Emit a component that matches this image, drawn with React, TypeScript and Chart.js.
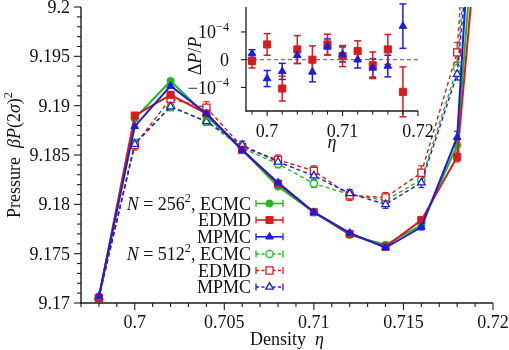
import React, { useEffect, useRef } from 'react';
import { Chart, registerables } from 'chart.js';

Chart.register(...registerables);

// ---------------- Data (main panel) ----------------
// Packing fraction (density) eta; the last column lies beyond the top of the plot.
const densities = [0.698, 0.7, 0.702, 0.704, 0.706, 0.708, 0.71, 0.712, 0.714, 0.716, 0.718, 0.72];

const ecmc256 = [9.1706, 9.1887, 9.1925, 9.189, 9.1855, 9.1818, 9.1792, 9.1769, 9.1759, 9.1779, 9.186, 9.2324];
const edmd256 = [9.1705, 9.189, 9.1911, 9.1892, 9.1855, 9.1821, 9.1792, 9.177, 9.1757, 9.1784, 9.1848, 9.2251];
const mpmc256 = [9.1707, 9.1879, 9.192, 9.1892, 9.1855, 9.1822, 9.1792, 9.1771, 9.1756, 9.1777, 9.1868, 9.2471];
const ecmc512 = [9.1706, 9.1862, 9.1899, 9.1884, 9.1857, 9.1841, 9.1821, 9.181, 9.1804, 9.1825, 9.1938, 9.2402];
const edmd512 = [9.1705, 9.186, 9.1907, 9.1898, 9.1858, 9.1845, 9.1834, 9.1809, 9.1807, 9.1832, 9.1954, 9.2535];
const mpmc512 = [9.1706, 9.1861, 9.1899, 9.1884, 9.186, 9.1843, 9.1829, 9.1811, 9.18, 9.1822, 9.1932, 9.2317];

const ecmc256Err = [0.0002, 0.0002, 0.0002, 0.0002, 0.0002, 0.0002, 0.0002, 0.0002, 0.0002, 0.0003, 0.0005, 0];
const edmd256Err = [0.0002, 0.0003, 0.0003, 0.0002, 0.0002, 0.0002, 0.0002, 0.0002, 0.0002, 0.0003, 0.0005, 0];
const mpmc256Err = [0.0002, 0.0002, 0.0002, 0.0002, 0.0002, 0.0002, 0.0002, 0.0002, 0.0002, 0.0003, 0.0006, 0];
const ecmc512Err = [0.0003, 0.0004, 0.0004, 0.0004, 0.0004, 0.0004, 0.0004, 0.0004, 0.0004, 0.0005, 0.0006, 0];
const edmd512Err = [0.0003, 0.0005, 0.0006, 0.0006, 0.0004, 0.0005, 0.0005, 0.0005, 0.0005, 0.0007, 0.001, 0];
const mpmc512Err = [0.0003, 0.0004, 0.0004, 0.0004, 0.0004, 0.0004, 0.0004, 0.0004, 0.0004, 0.0005, 0.0006, 0];

const xTickValues = [0.7, 0.705, 0.71, 0.715, 0.72];
const xTickLabels = ['0.7', '0.705', '0.71', '0.715', '0.72'];
const yTickValues = [9.17, 9.175, 9.18, 9.185, 9.19, 9.195, 9.2];
const yTickLabels = ['9.17', '9.175', '9.18', '9.185', '9.19', '9.195', '9.2'];

const legendSizes = ['256', '', '', '512', '', ''];
const legendMethods = ['ECMC', 'EDMD', 'MPMC', 'ECMC', 'EDMD', 'MPMC'];

// ---------------- Data (inset) ----------------
const insetDensities = [0.698, 0.7, 0.702, 0.704, 0.706, 0.708, 0.71, 0.712, 0.714, 0.716, 0.718];
// relative deviation ΔP/P in units of 1e-4
const edmdDeviation = [-0.05, 0.55, -1.04, 0.37, 0.0, 0.55, 0.13, 0.31, -0.2, 0.37, -1.16];
const edmdDeviationErr = [0.25, 0.39, 0.45, 0.5, 0.5, 0.37, 0.38, 0.37, 0.48, 0.54, 0.9];
const mpmcDeviation = [0.22, -0.68, -0.42, 0.16, -0.44, 0.46, 0.19, 0.0, -0.3, -0.23, 1.21];
const mpmcDeviationErr = [0.14, 0.29, 0.29, 0.3, 0.36, 0.29, 0.27, 0.3, 0.33, 0.39, 0.8];

const insetXTickValues = [0.7, 0.71, 0.72];
const insetXTickLabels = ['0.7', '0.71', '0.72'];
const insetYTickValues = [1, 0, -1];
const insetYTickMantissa = ['10', '0', '\u221210'];
const insetYTickExponent = ['\u22124', '', '\u22124'];

// ---------------- Styles ----------------
const GREEN = '#1fb81f';
const RED = '#d81c1c';
const BLUE = '#1c1ce0';
const AXIS = '#1a1a1a';
const FONT = '"Liberation Serif", "Times New Roman", serif';
const FS = 18;

type Shape = 'circle' | 'rect' | 'triangle';
interface Series {
  values: number[];
  errors: number[];
  color: string;
  shape: Shape;
  dashed: boolean;
}

const mainSeries: Series[] = [
  { values: mpmc256, errors: mpmc256Err, color: BLUE, shape: 'triangle', dashed: false },
  { values: edmd256, errors: edmd256Err, color: RED, shape: 'rect', dashed: false },
  { values: ecmc256, errors: ecmc256Err, color: GREEN, shape: 'circle', dashed: false },
  { values: mpmc512, errors: mpmc512Err, color: BLUE, shape: 'triangle', dashed: true },
  { values: edmd512, errors: edmd512Err, color: RED, shape: 'rect', dashed: true },
  { values: ecmc512, errors: ecmc512Err, color: GREEN, shape: 'circle', dashed: true },
];
// legend rows in order: ECMC, EDMD, MPMC (256) then (512)
const legendSeries = [mainSeries[2], mainSeries[1], mainSeries[0], mainSeries[5], mainSeries[4], mainSeries[3]];

const radiusFor = (s: Shape) => (s === 'rect' ? 5 : s === 'triangle' ? 4.4 : 3.6);

type Seg = { t: string; it?: boolean; sup?: boolean };

function segFont(s: Seg, size: number) {
  const sz = s.sup ? size * 0.68 : size;
  return `${s.it ? 'italic ' : ''}${sz}px ${FONT}`;
}
function richWidth(ctx: CanvasRenderingContext2D, segs: Seg[], size: number) {
  let w = 0;
  for (const s of segs) {
    ctx.font = segFont(s, size);
    w += ctx.measureText(s.t).width;
  }
  return w;
}
function drawRich(
  ctx: CanvasRenderingContext2D,
  segs: Seg[],
  x: number,
  y: number,
  size: number,
  align: 'left' | 'right' | 'center'
) {
  const w = richWidth(ctx, segs, size);
  let cx = align === 'left' ? x : align === 'right' ? x - w : x - w / 2;
  ctx.textAlign = 'left';
  ctx.textBaseline = 'alphabetic';
  for (const s of segs) {
    ctx.font = segFont(s, size);
    ctx.fillText(s.t, cx, s.sup ? y - size * 0.42 : y);
    cx += ctx.measureText(s.t).width;
  }
}

function line(ctx: CanvasRenderingContext2D, x1: number, y1: number, x2: number, y2: number) {
  ctx.beginPath();
  ctx.moveTo(x1, y1);
  ctx.lineTo(x2, y2);
  ctx.stroke();
}

function drawMarker(
  ctx: CanvasRenderingContext2D,
  shape: Shape,
  x: number,
  y: number,
  r: number,
  color: string,
  hollow: boolean
) {
  ctx.beginPath();
  if (shape === 'circle') {
    ctx.arc(x, y, r, 0, Math.PI * 2);
  } else if (shape === 'rect') {
    const h = r * Math.SQRT1_2;
    ctx.rect(x - h, y - h, 2 * h, 2 * h);
  } else {
    for (let k = 0; k < 3; k++) {
      const a = (k * 2 * Math.PI) / 3;
      const px = x + Math.sin(a) * r;
      const py = y - Math.cos(a) * r;
      if (k === 0) ctx.moveTo(px, py);
      else ctx.lineTo(px, py);
    }
    ctx.closePath();
  }
  ctx.fillStyle = hollow ? '#ffffff' : color;
  ctx.fill();
  ctx.strokeStyle = color;
  ctx.lineWidth = hollow ? 1.3 : 1;
  ctx.setLineDash([]);
  ctx.stroke();
}

function drawErrorBar(
  ctx: CanvasRenderingContext2D,
  x: number,
  yLo: number,
  yHi: number,
  cap: number
) {
  line(ctx, x, yLo, x, yHi);
  line(ctx, x - cap, yLo, x + cap, yLo);
  line(ctx, x - cap, yHi, x + cap, yHi);
}

// ---------------- Main chart plugin ----------------
const mainDecor = {
  id: 'mainDecor',
  beforeDatasetsDraw(chart: any) {
    const ctx: CanvasRenderingContext2D = chart.ctx;
    const xs = chart.scales.x;
    const ys = chart.scales.y;
    ctx.save();
    ctx.setLineDash([]);
    for (const s of mainSeries) {
      ctx.strokeStyle = s.color;
      ctx.lineWidth = 1.2;
      s.values.forEach((v, i) => {
        const e = s.errors[i];
        if (!e) return;
        const px = xs.getPixelForValue(densities[i]);
        drawErrorBar(ctx, px, ys.getPixelForValue(v - e), ys.getPixelForValue(v + e), 3);
      });
    }
    ctx.restore();
  },
  afterDraw(chart: any) {
    const ctx: CanvasRenderingContext2D = chart.ctx;
    const xs = chart.scales.x;
    const ys = chart.scales.y;
    const { left, right, top, bottom } = chart.chartArea;
    ctx.save();
    ctx.setLineDash([]);
    ctx.strokeStyle = AXIS;
    ctx.lineWidth = 1.4;
    line(ctx, left, top, left, bottom + 0.7);
    line(ctx, left - 0.7, bottom, right, bottom);

    ctx.lineWidth = 1.1;
    // x ticks every 0.001
    for (let k = 697; k <= 720; k++) {
      const px = xs.getPixelForValue(k / 1000);
      const major = k % 5 === 0;
      line(ctx, px, bottom, px, bottom + (major ? 7 : 4));
    }
    // y ticks every 0.001
    for (let k = 9170; k <= 9200; k++) {
      const py = ys.getPixelForValue(k / 1000);
      const major = k % 5 === 0;
      line(ctx, left, py, left - (major ? 7 : 4), py);
    }

    ctx.fillStyle = '#111';
    xTickValues.forEach((v, i) => {
      drawRich(ctx, [{ t: xTickLabels[i] }], xs.getPixelForValue(v), bottom + 24.5, FS, 'center');
    });
    yTickValues.forEach((v, i) => {
      drawRich(ctx, [{ t: yTickLabels[i] }], left - 11, ys.getPixelForValue(v) + 6, FS, 'right');
    });

    // axis titles
    drawRich(ctx, [{ t: 'Density  ' }, { t: '\u03b7', it: true }], (left + right) / 2, 344.5, FS, 'center');
    ctx.save();
    ctx.translate(19.5, (top + bottom) / 2);
    ctx.rotate(-Math.PI / 2);
    drawRich(
      ctx,
      [
        { t: 'Pressure  ' },
        { t: '\u03b2P', it: true },
        { t: '(2' },
        { t: '\u03c3', it: true },
        { t: ')' },
        { t: '2', sup: true },
      ],
      0,
      0,
      FS,
      'center'
    );
    ctx.restore();

    // legend
    const rowY = [203.5, 220, 236.8, 254, 270.5, 287];
    const textRight = 251;
    const sx1 = 256;
    const sx2 = 283;
    legendSeries.forEach((s, i) => {
      const y = rowY[i];
      const segs: Seg[] = legendSizes[i]
        ? [{ t: 'N', it: true }, { t: ' = ' + legendSizes[i] }, { t: '2', sup: true }, { t: ', ' + legendMethods[i] }]
        : [{ t: legendMethods[i] }];
      ctx.fillStyle = '#111';
      drawRich(ctx, segs, textRight, y + 6, FS, 'right');
      ctx.strokeStyle = s.color;
      ctx.lineWidth = s.dashed ? 1.3 : 1.6;
      ctx.setLineDash(s.dashed ? [3, 2.5] : []);
      line(ctx, sx1, y, sx2, y);
      ctx.setLineDash([]);
      ctx.lineWidth = 1.3;
      line(ctx, sx1, y - 3.5, sx1, y + 3.5);
      line(ctx, sx2, y - 3.5, sx2, y + 3.5);
      drawMarker(ctx, s.shape, (sx1 + sx2) / 2, y, radiusFor(s.shape), s.color, s.dashed);
    });
    ctx.restore();
  },
};

function mainConfig(): any {
  const last = densities.length - 1;
  return {
    type: 'line',
    data: {
      datasets: mainSeries.map((s) => ({
        data: densities.map((x, i) => ({ x, y: s.values[i] })),
        borderColor: s.color,
        backgroundColor: s.color,
        borderWidth: s.dashed ? 1.4 : 2,
        borderDash: s.dashed ? [4, 3] : [],
        pointStyle: s.shape,
        pointRadius: (c: any) => (c.dataIndex === last ? 0 : radiusFor(s.shape)),
        pointBackgroundColor: s.dashed ? '#ffffff' : s.color,
        pointBorderColor: s.color,
        pointBorderWidth: s.dashed ? 1.3 : 1,
        tension: 0,
        fill: false,
      })),
    },
    options: {
      animation: false,
      responsive: false,
      events: [],
      layout: { padding: { left: 81, right: 16, top: 7, bottom: 47 } },
      plugins: { legend: { display: false }, tooltip: { enabled: false }, title: { display: false } },
      scales: {
        x: { type: 'linear', min: 0.697, max: 0.72, display: false },
        y: { type: 'linear', min: 9.17, max: 9.2, display: false },
      },
    },
    plugins: [mainDecor],
  };
}

// ---------------- Inset plugin ----------------
const insetSeries = [
  { values: mpmcDeviation, errors: mpmcDeviationErr, color: BLUE, shape: 'triangle' as Shape },
  { values: edmdDeviation, errors: edmdDeviationErr, color: RED, shape: 'rect' as Shape },
];

const insetDecor = {
  id: 'insetDecor',
  beforeDatasetsDraw(chart: any) {
    const ctx: CanvasRenderingContext2D = chart.ctx;
    const xs = chart.scales.x;
    const ys = chart.scales.y;
    const { left, right } = chart.chartArea;
    ctx.save();
    ctx.strokeStyle = '#555';
    ctx.lineWidth = 1;
    ctx.setLineDash([4, 3]);
    const y0 = ys.getPixelForValue(0);
    line(ctx, left, y0, right, y0);
    ctx.setLineDash([]);
    for (const s of insetSeries) {
      ctx.strokeStyle = s.color;
      ctx.lineWidth = 1.5;
      s.values.forEach((v, i) => {
        const px = xs.getPixelForValue(insetDensities[i]);
        const e = s.errors[i];
        drawErrorBar(ctx, px, ys.getPixelForValue(v - e), ys.getPixelForValue(v + e), 3.5);
      });
    }
    ctx.restore();
  },
  afterDraw(chart: any) {
    const ctx: CanvasRenderingContext2D = chart.ctx;
    const xs = chart.scales.x;
    const ys = chart.scales.y;
    const { left, right, top, bottom } = chart.chartArea;
    ctx.save();
    ctx.setLineDash([]);
    ctx.strokeStyle = AXIS;
    ctx.lineWidth = 1.3;
    line(ctx, left, top, left, bottom + 0.6);
    line(ctx, left - 0.6, bottom, right, bottom);
    ctx.lineWidth = 1.1;
    for (let k = 698; k <= 720; k += 2) {
      const px = xs.getPixelForValue(k / 1000);
      line(ctx, px, bottom, px, bottom + (k % 10 === 0 ? 5 : 3.5));
    }
    insetYTickValues.forEach((v) => {
      const py = ys.getPixelForValue(v);
      line(ctx, left, py, left - 5, py);
    });
    ctx.fillStyle = '#111';
    insetXTickValues.forEach((v, i) => {
      drawRich(ctx, [{ t: insetXTickLabels[i] }], xs.getPixelForValue(v), bottom + 26, FS, 'center');
    });
    insetYTickValues.forEach((v, i) => {
      const segs: Seg[] = insetYTickExponent[i]
        ? [{ t: insetYTickMantissa[i] }, { t: insetYTickExponent[i], sup: true }]
        : [{ t: insetYTickMantissa[i] }];
      drawRich(ctx, segs, left - 17, ys.getPixelForValue(v) + 6.5, FS, 'right');
    });
    drawRich(ctx, [{ t: '\u03b7', it: true }], 332, 147.5, FS, 'center');
    ctx.save();
    ctx.translate(200.5, 56);
    ctx.rotate(-Math.PI / 2);
    drawRich(
      ctx,
      [{ t: '\u0394' }, { t: 'P', it: true }, { t: '/' }, { t: 'P', it: true }],
      0,
      0,
      FS,
      'center'
    );
    ctx.restore();
    ctx.restore();
  },
};

function insetConfig(): any {
  return {
    type: 'scatter',
    data: {
      datasets: insetSeries.map((s) => ({
        data: insetDensities.map((x, i) => ({ x, y: s.values[i] })),
        pointStyle: s.shape,
        pointRadius: radiusFor(s.shape),
        pointBackgroundColor: s.color,
        pointBorderColor: s.color,
        pointBorderWidth: 1,
        showLine: false,
        clip: false,
      })),
    },
    options: {
      animation: false,
      responsive: false,
      events: [],
      layout: { padding: { left: 246, right: 91, top: 7, bottom: 239 } },
      plugins: { legend: { display: false }, tooltip: { enabled: false } },
      scales: {
        x: { type: 'linear', min: 0.6972, max: 0.72, display: false },
        y: { type: 'linear', min: -1.85, max: 1.9, display: false },
      },
    },
    plugins: [insetDecor],
  };
}

export default function App() {
  const mainRef = useRef<HTMLCanvasElement>(null);
  const insetRef = useRef<HTMLCanvasElement>(null);
  useEffect(() => {
    const main = new Chart(mainRef.current as HTMLCanvasElement, mainConfig());
    const inset = new Chart(insetRef.current as HTMLCanvasElement, insetConfig());
    return () => {
      main.destroy();
      inset.destroy();
    };
  }, []);
  return (
    <div style={{ position: 'fixed', left: 0, top: 0, width: 509, height: 350, background: '#ffffff' }}>
      <canvas
        ref={mainRef}
        width={509}
        height={350}
        style={{ position: 'absolute', left: 0, top: 0, width: 509, height: 350 }}
      />
      <canvas
        ref={insetRef}
        width={509}
        height={350}
        style={{ position: 'absolute', left: 0, top: 0, width: 509, height: 350 }}
      />
    </div>
  );
}
